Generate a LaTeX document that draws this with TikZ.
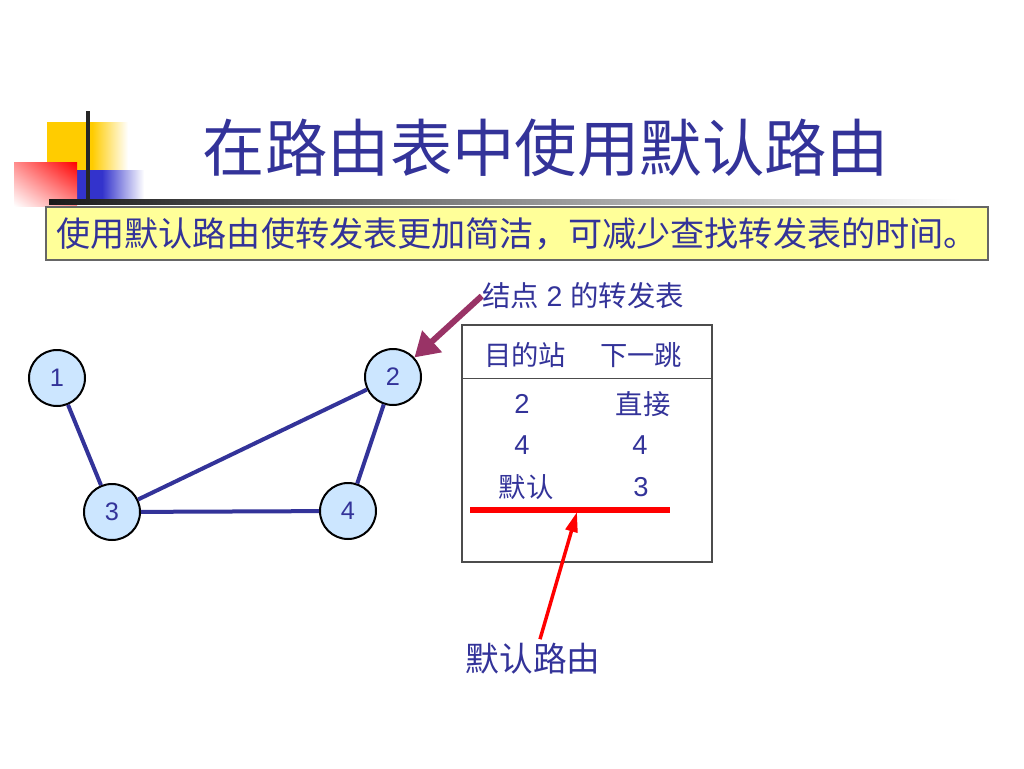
\documentclass[tikz,border=0pt]{standalone}
\usepackage{fontspec}
\setmainfont{Liberation Sans}
\newfontfamily\cjk{Noto Sans CJK SC}
\usepackage{xcolor}
\usetikzlibrary{arrows.meta,calc,positioning,shadings}
\definecolor{txtblue}{HTML}{333399}
\definecolor{nodefill}{HTML}{CCE6FF}
\definecolor{notefill}{HTML}{FFFF99}
\definecolor{plum}{HTML}{993366}
\definecolor{decoyellow}{HTML}{FFCC00}
\definecolor{decoblue}{HTML}{3333CC}

\begin{document}
\begin{tikzpicture}[
  x=0.75pt, y=-0.75pt,
  router/.style={circle, draw, line width=1.5pt, fill=nodefill, minimum size=42pt, inner sep=0pt, text=txtblue, font=\fontsize{19}{21}\selectfont},
  link/.style={draw=txtblue, line width=3pt},
  cell/.style={text=txtblue, font=\cjk\fontsize{20.5}{23}\selectfont, inner sep=0pt},
  numcell/.style={text=txtblue, font=\fontsize{20.5}{23}\selectfont, inner sep=0pt},
  tablebox/.style={draw=black!70, line width=0.8pt, minimum width=187.5pt, minimum height=177.75pt, inner sep=0pt},
  note/.style={draw=black!60, line width=0.8pt, fill=notefill, minimum width=706.5pt, minimum height=39.75pt, inner sep=0pt, text=txtblue, font=\cjk\fontsize{25.6}{29}\selectfont},
  pointer/.style={draw=plum, line width=4.5pt, -{Triangle[length=18pt, width=21pt]}},
  redarrow/.style={draw=red, line width=2.6pt, -{Triangle[length=15pt, width=9pt]}}
]
\useasboundingbox (0,0) rectangle (1024,768);
% decoration
\fill[decoyellow] (47,122) rectangle (92,170);
\shade[left color=decoyellow, right color=white] (92,122) rectangle (128,170);
\fill[decoblue] (77,170) rectangle (102,202);
\shade[left color=decoblue, right color=white] (102,170) rectangle (144,202);
\shade[upper right=red, lower left=white, upper left=red!45!white, lower right=red!45!white] (14,162) rectangle (77,206);
\fill[black!85] (85.5,111) rectangle (89.5,205);
\shade[left color=black!90, right color=white] (49,199) rectangle (960,204);

\node[text=txtblue, font=\cjk\fontsize{46.8}{50}\selectfont] (title) at (546,148) {在路由表中使用默认路由};
\node[note] (intro) at (517,233.5) {使用默认路由使转发表更加简洁，可减少查找转发表的时间。};

% network
\node[router] (n1) at (57,378) {1};
\node[router] (n2) at (393,377) {2};
\node[router] (n3) at (112,512) {3};
\node[router] (n4) at (348,511) {4};
\draw[link] (n1) -- (n3);
\draw[link] (n3) -- (n2);
\draw[link] (n2) -- (n4);
\draw[link] (n3) -- (n4);

% forwarding table of node 2
\node[text=txtblue, font=\fontsize{21.3}{24}\selectfont, inner sep=0pt] (caption) at (583,296) {{\cjk 结点} 2 {\cjk 的转发表}};
\draw[pointer] (caption.west) -- (n2);
\node[tablebox] (tbl) at (587,443.5) {};
\draw[draw=black!70, line width=0.8pt] ($(tbl.north west)+(0,54)$) -- ($(tbl.north east)+(0,54)$);
\node[cell] (h1) at (525,355) {目的站};
\node[cell] (h2) at (641,355) {下一跳};
\node[numcell] (d1) at (522,404) {2};
\node[cell] (g1) at (643,404) {直接};
\node[numcell] (d2) at (522,445) {4};
\node[numcell] (g2) at (640,445) {4};
\node[cell] (d3) at (526,487) {默认};
\node[numcell] (g3) at (641,487) {3};
\coordinate (ul) at (470,510);
\coordinate (ur) at (670,510);
\coordinate (tip) at (577,512);
\draw[red, line width=4.5pt] (ul) -- (ur);
\node[text=txtblue, font=\cjk\fontsize{25.3}{28}\selectfont, inner sep=0pt] (dft) at (533,659) {默认路由};
\draw[redarrow] ($(dft.north)+(7,-4)$) -- (tip);
\end{tikzpicture}
\end{document}
